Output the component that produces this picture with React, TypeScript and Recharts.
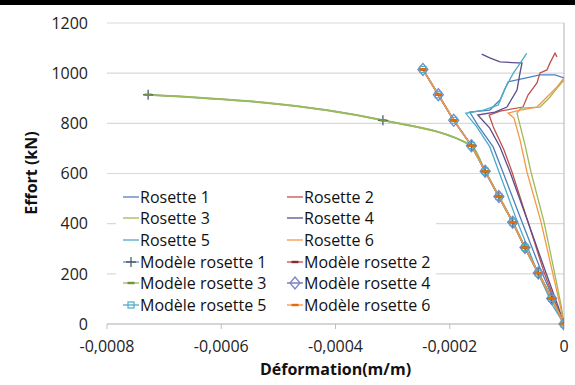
import { LineChart, Line, XAxis, YAxis, CartesianGrid, Legend, ReferenceLine, Label } from 'recharts';

const xTicks = [-0.0008, -0.0006, -0.0004, -0.0002, 0];
const yTicks = [0, 200, 400, 600, 800, 1000, 1200];

// measured curves (strain, load)
const r1X = [0, -0.000014, -0.000042, -0.0000735, -0.000107, -0.000124, -0.000151, -0.000165, -0.00013, -0.000112, -0.000098, -0.0000823, -0.000042, -0.0000158, 0];
const r1F = [0, 76, 223, 407, 606, 706, 793, 845, 853, 893, 965, 973, 993, 993, 981];

const r2X = [0, -0.0000123, -0.000035, -0.000063, -0.000091, -0.000105, -0.000123, -0.000131, -0.000112, -0.0000718, -0.000063, -0.0000473, -0.000042, -0.0000298, -0.0000245, -0.0000158, -0.0000123];
const r2F = [0, 68, 207, 407, 606, 694, 781, 833, 849, 865, 913, 961, 1001, 1013, 1041, 1080, 1065];

const r3X = [0, -0.0000053, -0.0000175, -0.000035, -0.0000578, -0.0000683, -0.000077, -0.0000823, -0.0000753, -0.000042, -0.0000245, -0.0000105, 0];
const r3F = [0, 76, 215, 407, 606, 714, 793, 841, 861, 865, 905, 945, 973];

const r4X = [0, -0.0000105, -0.0000333, -0.000063, -0.0000945, -0.000112, -0.00013, -0.000151, -0.000121, -0.0000998, -0.0000823, -0.000077, -0.0000735, -0.0000823, -0.000112, -0.00013, -0.000144];
const r4F = [0, 72, 215, 407, 606, 706, 781, 833, 845, 865, 933, 1001, 1041, 1041, 1045, 1061, 1076];

const r5X = [0, -0.0000187, -0.0000478, -0.0000828, -0.000115, -0.00013, -0.000153, -0.000172, -0.000141, -0.000115, -0.000103, -0.0000887, -0.000077, -0.0000653];
const r5F = [0, 69, 215, 415, 614, 707, 787, 840, 853, 873, 940, 1000, 1039, 1079];

const r6X = [0, -0.000007, -0.000021, -0.0000403, -0.0000648, -0.000077, -0.0000875, -0.000098, -0.000077, -0.0000473, -0.0000298, -0.0000123, 0];
const r6F = [0, 76, 215, 407, 606, 734, 821, 841, 853, 865, 905, 945, 981];

// model curves
const modelX = [0, -0.0000216, -0.000045, -0.0000683, -0.0000898, -0.000114, -0.000138, -0.000162, -0.000193, -0.00022, -0.000247];
const modelF = [0, 102, 203, 305, 406, 508, 609, 711, 812, 914, 1015];
const model13X = [0, -0.0000216, -0.000045, -0.0000683, -0.0000898, -0.000114, -0.000138, -0.000162, -0.000317, -0.000728];
const model13F = [0, 102, 203, 305, 406, 508, 609, 711, 812, 914];

const zip = (xs: number[], fs: number[]) => xs.map((x, i) => ({ x, f: fs[i] }));

type Marker = 'none' | 'plus' | 'dash' | 'diamond' | 'square';
type Series = { name: string; data: { x: number; f: number }[]; color: string; marker: Marker; markerColor: string; width: number; smooth?: boolean };

const series: Series[] = [
  { name: 'Rosette 1', data: zip(r1X, r1F), color: '#4F81BD', marker: 'none', markerColor: '#4F81BD', width: 1.3 },
  { name: 'Rosette 2', data: zip(r2X, r2F), color: '#C0504D', marker: 'none', markerColor: '#C0504D', width: 1.3 },
  { name: 'Rosette 3', data: zip(r3X, r3F), color: '#9BBB59', marker: 'none', markerColor: '#9BBB59', width: 1.3 },
  { name: 'Rosette 4', data: zip(r4X, r4F), color: '#5E4B8B', marker: 'none', markerColor: '#5E4B8B', width: 1.3 },
  { name: 'Rosette 5', data: zip(r5X, r5F), color: '#4BACC6', marker: 'none', markerColor: '#4BACC6', width: 1.3 },
  { name: 'Rosette 6', data: zip(r6X, r6F), color: '#F79646', marker: 'none', markerColor: '#F79646', width: 1.3 },
  { name: 'Modèle rosette 1', data: zip(model13X, model13F), color: '#6A8FC4', marker: 'plus', markerColor: '#4A5F6E', width: 1.5, smooth: true },
  { name: 'Modèle rosette 2', data: zip(modelX, modelF), color: '#C0504D', marker: 'dash', markerColor: '#8C2A27', width: 1.5 },
  { name: 'Modèle rosette 3', data: zip(model13X, model13F), color: '#9BBB59', marker: 'dash', markerColor: '#76923C', width: 2, smooth: true },
  { name: 'Modèle rosette 4', data: zip(modelX, modelF), color: '#8064A2', marker: 'diamond', markerColor: '#7088CC', width: 1.5 },
  { name: 'Modèle rosette 5', data: zip(modelX, modelF), color: '#4BACC6', marker: 'square', markerColor: '#4BACC6', width: 1.5 },
  { name: 'Modèle rosette 6', data: zip(modelX, modelF), color: '#F79646', marker: 'dash', markerColor: '#E46C0A', width: 1.5 },
];

function drawMarker(kind: Marker, cx: number, cy: number, color: string, key?: string) {
  if (kind === 'plus')
    return <path key={key} d={`M${cx - 5},${cy}H${cx + 5}M${cx},${cy - 5}V${cy + 5}`} stroke={color} strokeWidth={1.3} fill="none" />;
  if (kind === 'dash')
    return <rect key={key} x={cx - 3.5} y={cy - 1.2} width={7} height={2.4} fill={color} />;
  if (kind === 'diamond')
    return <path key={key} d={`M${cx},${cy - 6}L${cx + 5},${cy}L${cx},${cy + 6}L${cx - 5},${cy}Z`} stroke={color} strokeWidth={1.3} fill="none" />;
  if (kind === 'square')
    return <rect key={key} x={cx - 3} y={cy - 3} width={6} height={6} stroke={color} strokeWidth={1.2} fill="none" />;
  return <g key={key} />;
}

const font = '"Open Sans", sans-serif';

function LegendBox() {
  return (
    <div style={{ display: 'grid', gridTemplateColumns: '164px 150px', background: '#fff', paddingLeft: 7, fontFamily: font, fontSize: 16, color: '#111' }}>
      {series.map((s) => (
        <div key={s.name} style={{ display: 'flex', alignItems: 'center', height: 21.6, whiteSpace: 'nowrap' }}>
          <svg width={16} height={14} style={{ marginRight: 1 }}>
            <line x1={0} y1={7} x2={16} y2={7} stroke={s.color} strokeWidth={1.3} />
            {drawMarker(s.marker, 8, 7, s.markerColor)}
          </svg>
          <span>{s.name}</span>
        </div>
      ))}
    </div>
  );
}

const fmtX = (v: number) => (v === 0 ? '0' : v.toFixed(4).replace('.', ','));

export default function App() {
  return (
    <div style={{ position: 'absolute', left: 0, top: 0, width: 575, height: 385, background: '#fff' }}>
      <div style={{ position: 'absolute', left: 0, top: 0, width: 575, height: 5, background: '#000', zIndex: 2 }} />
      <LineChart width={575} height={385} margin={{ top: 23, right: 11, bottom: 0, left: 0 }}>
        <CartesianGrid vertical={false} stroke="#D9D9D9" strokeWidth={1.2} />
        <XAxis
          dataKey="x"
          type="number"
          domain={[-0.0008, 0]}
          ticks={xTicks}
          tickFormatter={fmtX}
          height={61}
          stroke="#BFBFBF"
          tickSize={5}
          tickMargin={12}
          tick={{ fill: '#222', fontSize: 16, fontFamily: font }}
          allowDataOverflow
        >
          <Label value="Déformation(m/m)" position="insideBottom" offset={10} style={{ fontFamily: font, fontSize: 16, fontWeight: 700, fill: '#111' }} />
        </XAxis>
        <YAxis
          type="number"
          domain={[0, 1200]}
          ticks={yTicks}
          width={107}
          axisLine={false}
          tickLine={false}
          tickSize={5}
          tickMargin={14}
          tick={{ fill: '#222', fontSize: 16, fontFamily: font }}
        >
          <Label
            content={() => (
              <text x={33} y={173} transform="rotate(-90 33 173)" textAnchor="middle" dominantBaseline="middle" style={{ fontFamily: font, fontSize: 16, fontWeight: 700, fill: '#111' }}>
                Effort (kN)
              </text>
            )}
          />
        </YAxis>
        <ReferenceLine x={0} stroke="#BFBFBF" strokeWidth={1.2} />
        <Legend
          layout="horizontal"
          verticalAlign="middle"
          wrapperStyle={{ left: 116, top: 186, width: 320 }}
          content={() => <LegendBox />}
        />
        {series.map((s) => (
          <Line
            key={s.name}
            data={s.data}
            dataKey="f"
            name={s.name}
            type={s.smooth ? 'monotone' : 'linear'}
            stroke={s.color}
            strokeWidth={s.width}
            dot={s.marker === 'none' ? false : (p: any) => drawMarker(s.marker, p.cx, p.cy, s.markerColor, `${s.name}-${p.index}`)}
            activeDot={false}
            isAnimationActive={false}
          />
        ))}
      </LineChart>
    </div>
  );
}
